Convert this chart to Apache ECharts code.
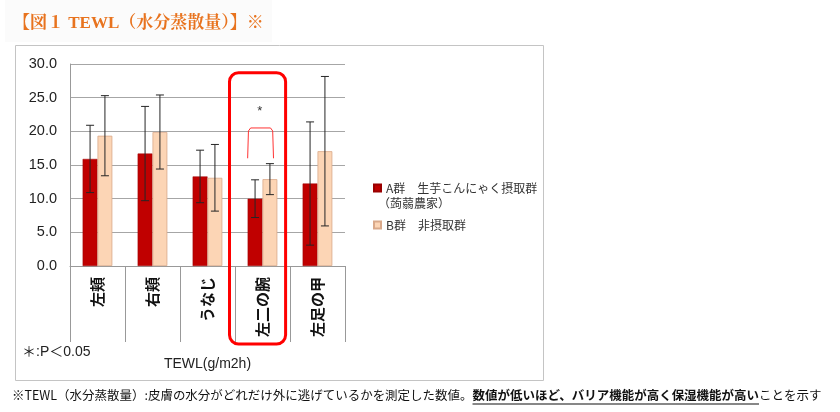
<!DOCTYPE html>
<html><head><meta charset="utf-8">
<script src="https://cdn.jsdelivr.net/npm/echarts@6/dist/echarts.min.js"></script>
<style>html,body{margin:0;padding:0;background:#fff}#c{width:840px;height:412px}</style>
</head><body><div id="c"></div>
<script>
const categories = ['左頬', '右頬', 'うなじ', '左二の腕', '左足の甲'];
const meanA = [15.9, 16.7, 13.3, 10.0, 12.25];
const sdA = [5.0, 7.0, 3.9, 2.8, 9.15];
const meanB = [19.35, 19.9, 13.1, 12.9, 17.05];
const sdB = [5.95, 5.5, 4.95, 2.3, 11.1];
const nameA = 'A群　生芋こんにゃく摂取群';
const nameB = 'B群　非摂取群';
const yMin = 0, yMax = 30, yStep = 5;

const JP = "'Noto Sans CJK JP', sans-serif";
const LAT = "'Liberation Sans', Arial, sans-serif";
const BW = 0.27;
const colA = '#C00000', colB = '#FCD5B5';

function errData(mean, sd) { return mean.map((m, i) => [i, m - sd[i], m + sd[i]]); }
function errRender(side) {
  return function (params, api) {
    const i = api.value(0);
    const band = api.size([1, 0])[0];
    const lo = api.coord([i, api.value(1)]);
    const hi = api.coord([i, api.value(2)]);
    const x = lo[0] + side * band * BW / 2;
    const cap = 4;
    const st = { stroke: '#262626', lineWidth: 1 };
    return { type: 'group', children: [
      { type: 'line', shape: { x1: x, y1: lo[1], x2: x, y2: hi[1] }, style: st },
      { type: 'line', shape: { x1: x - cap, y1: hi[1], x2: x + cap, y2: hi[1] }, style: st },
      { type: 'line', shape: { x1: x - cap, y1: lo[1], x2: x + cap, y2: lo[1] }, style: st }
    ] };
  };
}

const chart = echarts.init(document.getElementById('c'), null, { renderer: 'canvas' });
chart.setOption({
  backgroundColor: '#fff',
  animation: false,
  grid: { left: 70, right: 495, top: 64, bottom: 146 },
  legend: [
    { data: [nameA], left: 368, top: 177, orient: 'vertical', itemWidth: 7, itemHeight: 7, itemGap: 4,
      icon: 'rect', textStyle: { fontFamily: JP, fontSize: 12, color: '#333' } },
    { data: [nameB], left: 368, top: 214, orient: 'vertical', itemWidth: 7, itemHeight: 7,
      icon: 'rect', textStyle: { fontFamily: JP, fontSize: 12, color: '#333' } }
  ],
  xAxis: {
    type: 'category', data: categories, boundaryGap: true,
    axisLine: { lineStyle: { color: '#999' } },
    axisTick: { show: true, length: 76, interval: 0, lineStyle: { color: '#999' } },
    axisLabel: { rotate: 90, interval: 0, margin: 11, fontFamily: JP, fontSize: 15, fontWeight: 'bold', color: '#111' },
    name: 'TEWL(g/m2h)', nameLocation: 'middle', nameGap: 91,
    nameTextStyle: { fontFamily: LAT, fontSize: 14, color: '#222' }
  },
  yAxis: {
    type: 'value', min: yMin, max: yMax, interval: yStep,
    axisLine: { show: true, lineStyle: { color: '#999' } },
    axisTick: { show: false },
    splitLine: { lineStyle: { color: '#a6a6a6' } },
    axisLabel: { formatter: v => v.toFixed(1), fontFamily: LAT, fontSize: 14.5, color: '#222', margin: 13 }
  },
  series: [
    { name: nameA, type: 'bar', data: meanA, barWidth: (BW * 100) + '%', barGap: '0%',
      itemStyle: { color: colA, borderColor: '#9a0000', borderWidth: 0.5 } },
    { name: nameB, type: 'bar', data: meanB, barWidth: (BW * 100) + '%', barGap: '0%',
      itemStyle: { color: colB, borderColor: '#d9a98a', borderWidth: 0.8 } },
    { name: 'errA', type: 'custom', data: errData(meanA, sdA), renderItem: errRender(-1),
      encode: { x: 0, y: [1, 2] }, z: 5 },
    { name: 'errB', type: 'custom', data: errData(meanB, sdB), renderItem: errRender(1),
      encode: { x: 0, y: [1, 2] }, z: 5 }
  ]
});

// annotations computed from the axes
const c0 = chart.convertToPixel({ xAxisIndex: 0 }, 0);
const c1 = chart.convertToPixel({ xAxisIndex: 0 }, 1);
const band = c1 - c0;
const c3 = chart.convertToPixel({ xAxisIndex: 0 }, 3);
const py = v => chart.convertToPixel({ yAxisIndex: 0 }, v);
const y0 = py(0);
const boxL = c3 - 0.6 * band, boxR = c3 + 0.42 * band;
const boxT = py(28.7), boxB = y0 + 78;
const bL = c3 - 0.27 * band, bR = c3 + 0.2 * band, bT = py(20.5), bB = py(16.0);

// footnote measurement
const ctx = document.createElement('canvas').getContext('2d');
const fn1 = '※TEWL（水分蒸散量）:皮膚の水分がどれだけ外に逃げているかを測定した数値。';
const fn2 = '数値が低いほど、バリア機能が高く保湿機能が高い';
const fn3 = 'ことを示す';
function mw(t, size, bold) { ctx.font = (bold ? 'bold ' : '') + size + "px 'Noto Sans CJK JP'"; return ctx.measureText(t).width; }
let fs = 13;
const tot = mw(fn1, fs) + mw(fn2, fs, true) + mw(fn3, fs);
fs = fs * 810 / tot;
const w1 = mw(fn1, fs), w2 = mw(fn2, fs, true);
const fx = 12, fy = 395;

chart.setOption({
  graphic: [
    { type: 'rect', z: -10, shape: { x: 5, y: 0, width: 267, height: 42 }, style: { fill: '#fbfbfb' }, silent: true },
    { type: 'text', x: 13, y: 24, style: { text: '【図１ TEWL（水分蒸散量）】※', fill: '#E8731E',
      font: "bold 17px 'Liberation Serif', 'Noto Serif CJK JP', 'Noto Sans CJK JP', serif", verticalAlign: 'middle' } },
    { type: 'rect', z: -5, shape: { x: 15.5, y: 45.5, width: 528, height: 335 },
      style: { fill: 'none', stroke: '#c4c4c4', lineWidth: 1 }, silent: true },
    { type: 'rect', z: 10, shape: { x: boxL, y: boxT, width: boxR - boxL, height: boxB - boxT, r: 9 },
      style: { fill: 'none', stroke: '#FF0000', lineWidth: 3 } },
    { type: 'polyline', z: 10, shape: { points: [[bL, bB], [bL + 0.8, bT + 3], [bL + 3, bT], [bR - 3, bT], [bR - 0.8, bT + 3], [bR, bB]] },
      style: { fill: 'none', stroke: '#FF3333', lineWidth: 1 } },
    { type: 'text', z: 10, x: c3 - 0.05 * band, y: py(22.9), style: { text: '*', fill: '#333',
      font: "13px 'Liberation Sans', sans-serif", align: 'center', verticalAlign: 'middle' } },
    { type: 'text', x: 378, y: 203, style: { text: '（蒟蒻農家）', fill: '#333', font: "12px 'Noto Sans CJK JP'",
      verticalAlign: 'middle' } },
    { type: 'text', x: 22, y: 352, style: { text: '＊:P＜0.05', fill: '#222', font: "14px 'Liberation Sans', 'Noto Sans CJK JP'",
      verticalAlign: 'middle' } },
    { type: 'text', x: fx, y: fy, style: { text: fn1, fill: '#111', font: fs + "px 'Noto Sans CJK JP'", verticalAlign: 'middle' } },
    { type: 'text', x: fx + w1, y: fy, style: { text: fn2, fill: '#111', font: 'bold ' + fs + "px 'Noto Sans CJK JP'", verticalAlign: 'middle' } },
    { type: 'text', x: fx + w1 + w2, y: fy, style: { text: fn3, fill: '#111', font: fs + "px 'Noto Sans CJK JP'", verticalAlign: 'middle' } },
    { type: 'line', shape: { x1: fx + w1, y1: fy + 9, x2: fx + w1 + w2, y2: fy + 9 }, style: { stroke: '#111', lineWidth: 1.2 } }
  ]
});
</script></body></html>
